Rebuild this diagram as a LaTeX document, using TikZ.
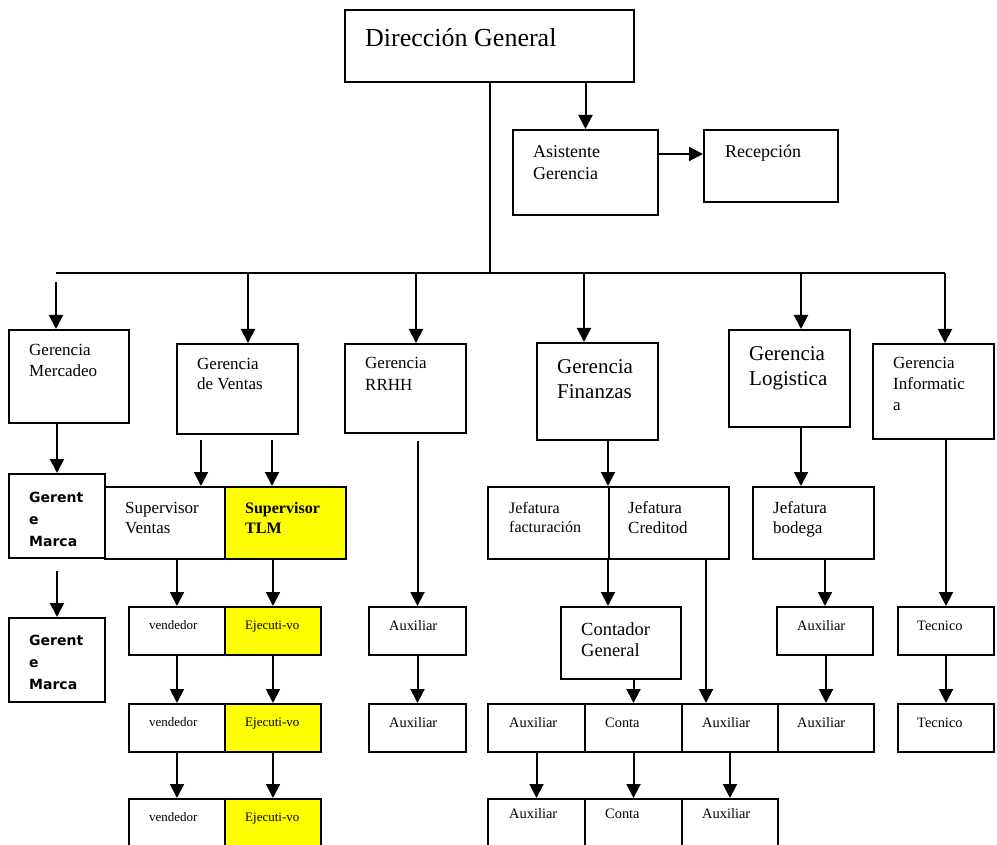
\documentclass[tikz,border=0pt]{standalone}
\usepackage{fontspec}
\setmainfont{Liberation Serif}
\newfontfamily\gmfont{DejaVu Sans}
\usetikzlibrary{arrows.meta}
\definecolor{tlmyellow}{RGB}{255,255,0}
\newcommand{\orgfont}[2]{\fontsize{#1}{#2}\selectfont}

\begin{document}
\begin{tikzpicture}[x=1pt, y=-1pt,
    box/.style={draw, line width=2pt, anchor=north west, inner sep=0pt},
    txt/.style={anchor=north west, inner sep=0pt, align=left},
    arr/.style={line width=2pt, -{Triangle[length=14pt,width=14pt]}}]
  \useasboundingbox (0,0) rectangle (997,845);

  % top level
  \node[box, minimum width=289pt, minimum height=72pt] (dir) at (344,9) {};
  \node[box, minimum width=145pt, minimum height=85pt] (asis) at (512,129) {};
  \node[box, minimum width=134pt, minimum height=72pt] (recep) at (703,129) {};
  \node[txt, font=\orgfont{26}{30}] (dir-t) at (365,25) {\strut Dirección General};
  \node[txt, font=\orgfont{18}{22}] (asis-t) at (533,141.6) {\strut Asistente\\Gerencia};
  \node[txt, font=\orgfont{18}{22}] (recep-t) at (725,141.6) {\strut Recepción};

  % gerencias
  \node[box, minimum width=120pt, minimum height=93pt] (merc) at (8,329) {};
  \node[box, minimum width=121pt, minimum height=90pt] (ventas) at (176,343) {};
  \node[box, minimum width=121pt, minimum height=89pt] (rrhh) at (344,343) {};
  \node[box, minimum width=121pt, minimum height=97pt] (fin) at (536,342) {};
  \node[box, minimum width=121pt, minimum height=97pt] (log) at (728,329) {};
  \node[box, minimum width=121pt, minimum height=95pt] (inf) at (872,343) {};
  \node[txt, font=\orgfont{17}{21}] (merc-t) at (29,340.3) {\strut Gerencia\\Mercadeo};
  \node[txt, font=\orgfont{17}{20}] (ventas-t) at (197,355) {\strut Gerencia\\de Ventas};
  \node[txt, font=\orgfont{17}{22}] (rrhh-t) at (365,352.6) {\strut Gerencia\\RRHH};
  \node[txt, font=\orgfont{21}{25}] (fin-t) at (557,355.5) {\strut Gerencia\\Finanzas};
  \node[txt, font=\orgfont{21}{25}] (log-t) at (749,342.5) {\strut Gerencia\\Logistica};
  \node[txt, font=\orgfont{17}{21}] (inf-t) at (893,353.3) {\strut Gerencia\\Informatic\\a};

  % mercadeo y ventas
  \node[box, minimum width=96pt, minimum height=84pt] (gm1) at (8,473) {};
  \node[box, minimum width=96pt, minimum height=84pt] (gm2) at (8,617) {};
  \node[txt, font=\gmfont\bfseries\orgfont{14}{22}] (gm1-t) at (29,486.6) {\strut Gerent\\e\\Marca};
  \node[txt, font=\gmfont\bfseries\orgfont{14}{22}] (gm2-t) at (29,629.6) {\strut Gerent\\e\\Marca};
  \node[box, minimum width=120pt, minimum height=72pt] (supv) at (104,486) {};
  \node[box, fill=tlmyellow, minimum width=121pt, minimum height=72pt] (tlm) at (224,486) {};
  \node[txt, font=\orgfont{17}{20}] (supv-t) at (125,499) {\strut Supervisor\\Ventas};
  \node[txt, font=\bfseries\orgfont{16}{20}] (tlm-t) at (245,499) {\strut Supervisor\\TLM};
  \foreach \i/\y/\h in {1/606/48, 2/703/48, 3/798/60} {
    \node[box, minimum width=96pt, minimum height=\h pt] (vend\i) at (128,\y) {};
    \node[box, fill=tlmyellow, minimum width=96pt, minimum height=\h pt] (ejec\i) at (224,\y) {};
    \node[txt, font=\orgfont{13}{16}] (vend\i-t) at (149,\y+11.8) {\strut vendedor};
    \node[txt, font=\orgfont{13}{16}] (ejec\i-t) at (245,\y+11.8) {\strut Ejecuti-vo};
  }

  % rrhh
  \node[box, minimum width=97pt, minimum height=48pt] (rhaux1) at (368,606) {};
  \node[box, minimum width=97pt, minimum height=48pt] (rhaux2) at (368,703) {};
  \node[txt, font=\orgfont{14.4}{17}] (rhaux1-t) at (389,618.1) {\strut Auxiliar};
  \node[txt, font=\orgfont{14.4}{17}] (rhaux2-t) at (389,715.1) {\strut Auxiliar};

  % finanzas y logistica
  \node[box, minimum width=121pt, minimum height=72pt] (jfac) at (487,486) {};
  \node[box, minimum width=120pt, minimum height=72pt] (jcred) at (608,486) {};
  \node[box, minimum width=121pt, minimum height=72pt] (jbod) at (752,486) {};
  \node[txt, font=\orgfont{16}{19}] (jfac-t) at (509,499.7) {\strut Jefatura\\facturación};
  \node[txt, font=\orgfont{17}{20}] (jcred-t) at (628,499) {\strut Jefatura\\Creditod};
  \node[txt, font=\orgfont{17}{20}] (jbod-t) at (773,499) {\strut Jefatura\\bodega};
  \node[box, minimum width=120pt, minimum height=72pt] (cont) at (560,606) {};
  \node[txt, font=\orgfont{18.5}{21}] (cont-t) at (581,620.3) {\strut Contador\\General};
  \node[box, minimum width=96pt, minimum height=48pt] (bodaux) at (776,606) {};
  \node[txt, font=\orgfont{14.4}{17}] (bodaux-t) at (797,618.1) {\strut Auxiliar};

  \node[box, minimum width=97pt, minimum height=48pt] (aux1) at (487,703) {};
  \node[box, minimum width=97pt, minimum height=48pt] (conta1) at (584,703) {};
  \node[box, minimum width=96pt, minimum height=48pt] (aux2) at (681,703) {};
  \node[box, minimum width=96pt, minimum height=48pt] (aux3) at (777,703) {};
  \node[box, minimum width=97pt, minimum height=60pt] (aux4) at (487,798) {};
  \node[box, minimum width=97pt, minimum height=60pt] (conta2) at (584,798) {};
  \node[box, minimum width=96pt, minimum height=60pt] (aux5) at (681,798) {};
  \node[txt, font=\orgfont{14.4}{17}] (aux1-t) at (509,715.1) {\strut Auxiliar};
  \node[txt, font=\orgfont{14.4}{17}] (conta1-t) at (605,715.1) {\strut Conta};
  \node[txt, font=\orgfont{14.4}{17}] (aux2-t) at (702,715.1) {\strut Auxiliar};
  \node[txt, font=\orgfont{14.4}{17}] (aux3-t) at (797,715.1) {\strut Auxiliar};
  \node[txt, font=\orgfont{14.4}{17}] (aux4-t) at (509,806.1) {\strut Auxiliar};
  \node[txt, font=\orgfont{14.4}{17}] (conta2-t) at (605,806.1) {\strut Conta};
  \node[txt, font=\orgfont{14.4}{17}] (aux5-t) at (702,806.1) {\strut Auxiliar};

  % informatica
  \node[box, minimum width=96pt, minimum height=48pt] (tec1) at (897,606) {};
  \node[box, minimum width=96pt, minimum height=48pt] (tec2) at (897,703) {};
  \node[txt, font=\orgfont{14.4}{17}] (tec1-t) at (917,618.1) {\strut Tecnico};
  \node[txt, font=\orgfont{14.4}{17}] (tec2-t) at (917,715.1) {\strut Tecnico};

  % connectors
  \coordinate (busL) at (56,273);
  \coordinate (busR) at (945,273);
  \draw[arr] (dir.south -| asis.north) -- (asis.north);
  \draw[arr] ([yshift=18.5pt]asis.east) -- ([yshift=18.5pt]asis.east -| recep.west);
  \draw[line width=2pt] (dir.south) -- (dir.south |- busL);
  \draw[line width=2pt] (busL) -- (busR);
  \draw[arr] ([xshift=48pt,yshift=-9pt]merc.north west |- busL) -- ([xshift=48pt]merc.north west);
  \foreach \b/\d in {ventas/72, rrhh/72, fin/48, log/73, inf/73}
    \draw[arr] ([xshift=\d pt]\b.north west |- busL) -- ([xshift=\d pt]\b.north west);

  \draw[arr] (merc.south -| gm1.north) -- (gm1.north);
  \draw[arr] ([yshift=-12pt]gm1.south) -- (gm2.north);
  \draw[arr] ([xshift=97pt,yshift=-5pt]supv.north west |- ventas.south) -- ([xshift=97pt]supv.north west);
  \draw[arr] ([xshift=48pt,yshift=-5pt]tlm.north west |- ventas.south) -- ([xshift=48pt]tlm.north west);
  \draw[arr] (supv.south -| vend1.north) -- (vend1.north);
  \draw[arr] (tlm.south -| ejec1.north) -- (ejec1.north);
  \foreach \a/\b in {vend1/vend2, vend2/vend3, ejec1/ejec2, ejec2/ejec3, rhaux1/rhaux2,
      bodaux/aux3, tec1/tec2, aux1/aux4, conta1/conta2, aux2/aux5}
    \draw[arr] (\a.south) -- (\a.south -| \b.north) -- (\b.north);

  \draw[arr] ([yshift=-7pt]rrhh.south -| rhaux1.north) -- (rhaux1.north);
  \draw[arr] (fin.south -| jcred.north west) -- (jcred.north west);
  \draw[arr] (jcred.south west) -- (jcred.south west |- cont.north);
  \draw[arr] (cont.south -| conta1.north) -- (conta1.north);
  \draw[arr] ([xshift=-24pt]jcred.south east) -- ([xshift=-24pt]jcred.south east |- aux2.north);
  \draw[arr] ([xshift=73pt]log.south west) -- ([xshift=73pt]log.south west |- jbod.north);
  \draw[arr] (jbod.south -| bodaux.north) -- (bodaux.north);
  \draw[arr] (inf.south -| tec1.north) -- (tec1.north);
\end{tikzpicture}
\end{document}
